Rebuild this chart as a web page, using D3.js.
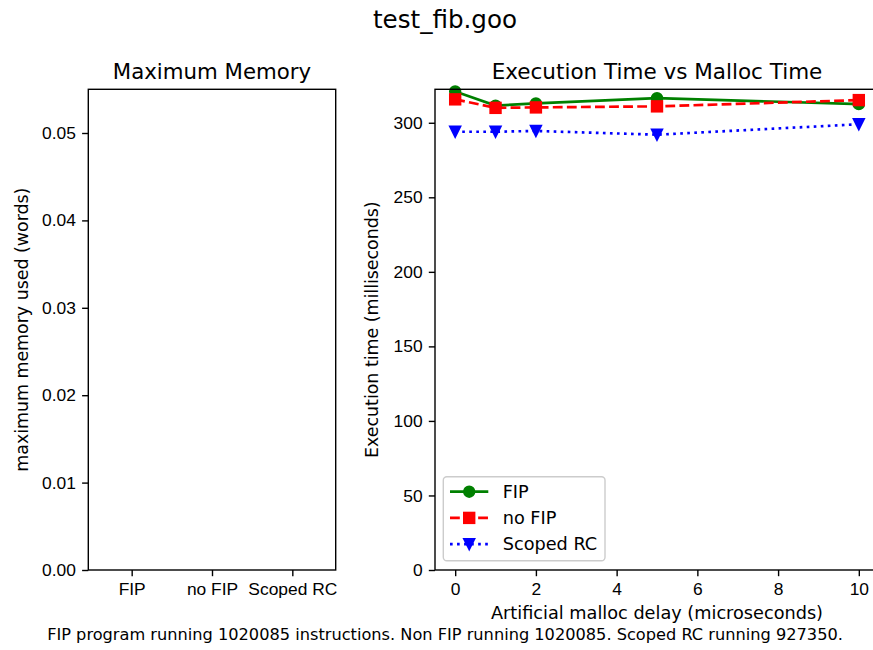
<!DOCTYPE html>
<html>
<head>
<meta charset="utf-8">
<script src="https://cdn.jsdelivr.net/npm/d3@7"></script>
<style>
  body { margin: 0; background: #fff; }
  svg { display: block; font-family: "DejaVu Sans", sans-serif; }
  .tick text { font-size: 17.4px; fill: #000; }
  .tick line { stroke: #000; stroke-width: 1.4px; }
  .domain { display: none; }
</style>
</head>
<body>
<div id="chart"></div>
<script>
// memory panel
const memCategories = ["FIP", "no FIP", "Scoped RC"];
const memValues = [0, 0, 0];
const memTicks = [0, 0.01, 0.02, 0.03, 0.04, 0.05];

// timing panel
const delays = [0, 1, 2, 5, 10];
const fipTimes = [321, 311.5, 313, 316.5, 312.5];
const noFipTimes = [315.7, 310, 310.3, 311, 315.2];
const scopedTimes = [294, 294, 294.5, 292, 299];
const timeTicks = [0, 50, 100, 150, 200, 250, 300];
const delayTicks = [0, 2, 4, 6, 8, 10];

const seriesNames = ["FIP", "no FIP", "Scoped RC"];

const width = 873, height = 650;
const pt = 1.77; // px per point

const svg = d3.select("#chart").append("svg")
    .attr("width", width)
    .attr("height", height);

// suptitle
svg.append("text")
    .attr("x", 445).attr("y", 28)
    .attr("text-anchor", "middle")
    .style("font-size", "24.6px")
    .text("test_fib.goo");

// ---------- left: maximum memory ----------
const L = { left: 88.3, right: 335.7, top: 89.3, bottom: 570 };

const xMem = d3.scaleLinear()
    .domain([-0.54, 2.54])
    .range([L.left, L.right]);

const yMem = d3.scaleLinear()
    .domain([0, 0.055])
    .range([L.bottom, L.top]);

const gMem = svg.append("g");

// zero-height bars
gMem.selectAll("rect.bar")
    .data(memValues)
    .enter().append("rect")
    .attr("class", "bar")
    .attr("x", (d, i) => xMem(i - 0.4))
    .attr("width", xMem(0.8) - xMem(0))
    .attr("y", d => yMem(d))
    .attr("height", d => yMem(0) - yMem(d))
    .attr("fill", "#1f77b4");

gMem.append("g")
    .attr("transform", `translate(0,${L.bottom})`)
    .call(d3.axisBottom(xMem)
        .tickValues(d3.range(memCategories.length))
        .tickFormat(i => memCategories[i])
        .tickSize(6.2).tickPadding(6.2));

gMem.append("g")
    .attr("transform", `translate(${L.left},0)`)
    .call(d3.axisLeft(yMem)
        .tickValues(memTicks)
        .tickFormat(d3.format(".2f"))
        .tickSize(6.2).tickPadding(6.2));

gMem.append("rect")
    .attr("x", L.left).attr("y", L.top)
    .attr("width", L.right - L.left).attr("height", L.bottom - L.top)
    .attr("fill", "none").attr("stroke", "#000").attr("stroke-width", 1.4);

gMem.append("text")
    .attr("x", (L.left + L.right) / 2).attr("y", 78.5)
    .attr("text-anchor", "middle")
    .style("font-size", "21.3px")
    .text("Maximum Memory");

gMem.append("text")
    .attr("transform", `translate(28,${(L.top + L.bottom) / 2}) rotate(-90)`)
    .attr("text-anchor", "middle")
    .style("font-size", "17.4px")
    .text("maximum memory used (words)");

// ---------- right: execution time ----------
const R = { left: 435, right: 879, top: 89.3, bottom: 570 };

const allTimes = fipTimes.concat(noFipTimes, scopedTimes);
const tExt = d3.extent(allTimes);
const tTop = tExt[1] + 0.05 * (tExt[1] - tExt[0]);

const xDelay = d3.scaleLinear()
    .domain([-0.5, 10.5])
    .range([R.left, R.right]);

const yTime = d3.scaleLinear()
    .domain([0, tTop])
    .range([R.bottom, R.top]);

const gT = svg.append("g");

gT.append("g")
    .attr("transform", `translate(0,${R.bottom})`)
    .call(d3.axisBottom(xDelay)
        .tickValues(delayTicks)
        .tickFormat(d3.format("d"))
        .tickSize(6.2).tickPadding(6.2));

gT.append("g")
    .attr("transform", `translate(${R.left},0)`)
    .call(d3.axisLeft(yTime)
        .tickValues(timeTicks)
        .tickFormat(d3.format("d"))
        .tickSize(6.2).tickPadding(6.2));

const series = [
    { name: seriesNames[0], values: fipTimes, color: "green", dash: null, marker: "circle" },
    { name: seriesNames[1], values: noFipTimes, color: "red", dash: [3.7 * 1.5 * pt, 1.6 * 1.5 * pt], marker: "square" },
    { name: seriesNames[2], values: scopedTimes, color: "blue", dash: [1 * 1.5 * pt, 1.65 * 1.5 * pt], marker: "tri" }
];

const line = d3.line()
    .x((d, i) => xDelay(delays[i]))
    .y(d => yTime(d));

const ms = 6 * pt;

function drawMarker(g, type, cx, cy, color) {
    if (type === "circle") {
        g.append("circle").attr("cx", cx).attr("cy", cy).attr("r", ms / 2)
            .attr("fill", color).attr("stroke", color).attr("stroke-width", pt);
    } else if (type === "square") {
        g.append("rect").attr("x", cx - ms / 2).attr("y", cy - ms / 2)
            .attr("width", ms).attr("height", ms)
            .attr("fill", color).attr("stroke", color).attr("stroke-width", pt);
    } else {
        const h = ms / 2;
        g.append("path")
            .attr("d", `M${cx},${cy + h}L${cx - h},${cy - h}L${cx + h},${cy - h}Z`)
            .attr("fill", color).attr("stroke", color).attr("stroke-width", pt)
            .attr("stroke-linejoin", "miter");
    }
}

const plot = gT.append("g");

series.forEach(s => {
    plot.append("path")
        .datum(s.values)
        .attr("d", line)
        .attr("fill", "none")
        .attr("stroke", s.color)
        .attr("stroke-width", 1.5 * pt)
        .attr("stroke-dasharray", s.dash ? s.dash.join(",") : null)
        .attr("stroke-linecap", s.dash ? "butt" : "square");
    s.values.forEach((v, i) => drawMarker(plot, s.marker, xDelay(delays[i]), yTime(v), s.color));
});

// spines
gT.append("rect")
    .attr("x", R.left).attr("y", R.top)
    .attr("width", R.right - R.left).attr("height", R.bottom - R.top)
    .attr("fill", "none").attr("stroke", "#000").attr("stroke-width", 1.4);

gT.append("text")
    .attr("x", (R.left + R.right) / 2).attr("y", 78.5)
    .attr("text-anchor", "middle")
    .style("font-size", "21.5px")
    .text("Execution Time vs Malloc Time");

gT.append("text")
    .attr("x", (R.left + R.right) / 2).attr("y", 619)
    .attr("text-anchor", "middle")
    .style("font-size", "17.7px")
    .text("Artificial malloc delay (microseconds)");

gT.append("text")
    .attr("transform", `translate(378,${(R.top + R.bottom) / 2}) rotate(-90)`)
    .attr("text-anchor", "middle")
    .style("font-size", "17.4px")
    .text("Execution time (milliseconds)");

// legend
const legend = gT.append("g")
    .attr("transform", "translate(443.3,476.7)");

legend.append("rect")
    .attr("width", 161.7).attr("height", 84)
    .attr("rx", 3.5)
    .attr("fill", "#fff").attr("fill-opacity", 0.8)
    .attr("stroke", "#cccccc").attr("stroke-width", 1.4);

series.forEach((s, i) => {
    const cy = 15 + i * 26.2;
    const row = legend.append("g");
    row.append("line")
        .attr("x1", 6.7).attr("x2", 45)
        .attr("y1", cy).attr("y2", cy)
        .attr("stroke", s.color)
        .attr("stroke-width", 1.5 * pt)
        .attr("stroke-dasharray", s.dash ? s.dash.join(",") : null);
    drawMarker(row, s.marker, 25.9, cy, s.color);
    row.append("text")
        .attr("x", 59.4).attr("y", cy + 6.4)
        .style("font-size", "17.7px")
        .text(s.name);
});

// footnote
svg.append("text")
    .attr("x", 445).attr("y", 640)
    .attr("text-anchor", "middle")
    .style("font-size", "16.2px")
    .text("FIP program running 1020085 instructions. Non FIP running 1020085. Scoped RC running 927350.");
</script>
</body>
</html>
